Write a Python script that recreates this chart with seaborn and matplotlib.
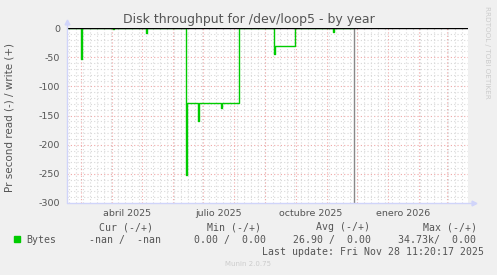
import numpy as np
import pandas as pd
import matplotlib
matplotlib.use("Agg")
import matplotlib.pyplot as plt
from matplotlib.patches import Rectangle
import seaborn as sns

# ---- data ----
dates = ["2025-02-15", "2025-03-01", "2025-03-02", "2025-04-02", "2025-04-03",
         "2025-05-05", "2025-05-06", "2025-06-14", "2025-06-15", "2025-06-26",
         "2025-06-27", "2025-07-19", "2025-07-20", "2025-08-06", "2025-09-09",
         "2025-09-10", "2025-09-30", "2025-11-07", "2025-11-08", "2025-11-28"]
read_values = [0, -53, 0, -1, 0,
               -8, 0, -252, -128, -160,
               -128, -137, -128, 0, -45,
               -31, 0, -7, 0, 0]
month_label_dates = ["2025-04-16", "2025-07-16", "2025-10-16", "2026-01-16"]
month_labels = ["abril 2025", "julio 2025", "octubre 2025", "enero 2026"]
y_ticks = [0, -50, -100, -150, -200, -250, -300]
now_date = "2025-11-28"
x_start, x_end = "2025-02-15", "2026-03-22"

legend_headers = ["Cur (-/+)", "Min (-/+)", "Avg (-/+)", "Max (-/+)"]
legend_values = ["-nan /  -nan", "0.00 /  0.00", "26.90 /  0.00", "34.73k/  0.00"]
series_name = "Bytes"
last_update = "Last update: Fri Nov 28 11:20:17 2025"

# ---- style ----
sns.set_theme(style="white")
plt.rcParams['font.family'] = ['DejaVu Sans']

W, H = 497, 275
fig = plt.figure(figsize=(W / 100, H / 100), dpi=100, facecolor='#F0F0F0')
ax = fig.add_axes([67 / W, 72 / H, 401 / W, 175 / H])
ax.set_facecolor('white')

xs = pd.to_datetime(x_start)
xe = pd.to_datetime(x_end)
ax.set_xlim(xs, xe)
ax.set_ylim(-300, 0)

# grid
minor_col = '#d8d8d8'
major_col = '#f0a8a8'
dot = (0, (1, 2))
for v in range(-290, 0, 10):
    if v % 50 != 0:
        ax.axhline(v, color=minor_col, lw=0.8, ls=dot, zorder=1)
for v in range(-250, 0, 50):
    ax.axhline(v, color=major_col, lw=0.8, ls=dot, zorder=1)
for d in pd.date_range(xs, xe, freq='W-MON'):
    ax.axvline(d, color=minor_col, lw=0.8, ls=dot, zorder=1)
for d in pd.date_range("2025-03-01", xe, freq='MS'):
    ax.axvline(d, color=major_col, lw=0.8, ls=dot, zorder=1)

# data
df = pd.DataFrame({'date': pd.to_datetime(dates), 'value': read_values})
sns.lineplot(data=df, x='date', y='value', ax=ax, color='#00CC00', lw=1.0,
             drawstyle='steps-post', zorder=3, legend=False)

ax.axvline(pd.to_datetime(now_date), color='#888888', lw=1.0, zorder=4)
ax.axhline(0, color='black', lw=1.0, zorder=5)

# axes & ticks
for s in ax.spines.values():
    s.set_visible(False)
axis_col = '#d0d4fa'
ax.plot([0, 0], [0, 1 + 6 / 175], transform=ax.transAxes, color=axis_col,
        lw=1, clip_on=False, zorder=6)
ax.plot([0, 1 + 4 / 401], [0, 0], transform=ax.transAxes, color=axis_col,
        lw=1, clip_on=False, zorder=6)
ax.plot([0], [1 + 6 / 175], marker='^', ms=3.5, color=axis_col,
        transform=ax.transAxes, clip_on=False, zorder=6)
ax.plot([1 + 6 / 401], [0], marker='>', ms=3.5, color=axis_col,
        transform=ax.transAxes, clip_on=False, zorder=6)

ax.set_xticks(pd.to_datetime(month_label_dates))
ax.set_xticklabels(month_labels)
ax.set_yticks(y_ticks)
ax.set_yticklabels([str(v) for v in y_ticks])
ax.tick_params(axis='both', length=0, labelsize=6.8, labelcolor='#555555')
ax.tick_params(axis='x', pad=4)
ax.tick_params(axis='y', pad=5)
ax.set_xlabel('')
ax.set_ylabel('')

# texts
fig.text(0.5, 1 - 19 / H, "Disk throughput for /dev/loop5 - by year",
         ha='center', va='center', fontsize=9, color='#555555')
fig.text(10 / W, 1 - 118 / H, "Pr second read (-) / write (+)", rotation=90,
         ha='center', va='center', fontsize=7.5, color='#555555')
fig.text(487 / W, 1 - 52 / H, "RRDTOOL / TOBI OETIKER", rotation=270,
         ha='center', va='center', fontsize=5.2, color='#cccccc')

mono = dict(family='DejaVu Sans Mono', fontsize=7.15, color='#555555', va='center')
head_x = [98.7, 206.7, 316, 422.7]
val_x = [89.3, 194.3, 293.3, 398.3]
for x, t in zip(head_x, legend_headers):
    fig.text(x / W, 1 - 227.5 / H, t, ha='left', **mono)
fig.text(26.3 / W, 1 - 240 / H, series_name, ha='left', **mono)
for x, t in zip(val_x, legend_values):
    fig.text(x / W, 1 - 240 / H, t, ha='left', **mono)
fig.text(261.7 / W, 1 - 251.7 / H, last_update, ha='left', **mono)
fig.patches.append(Rectangle((14 / W, 1 - 242 / H), 6 / W, 6 / H,
                             transform=fig.transFigure, color='#00CC00'))
fig.text(248 / W, 1 - 264 / H, "Munin 2.0.75", ha='center', va='center',
         fontsize=5, color='#cccccc')

fig.savefig('out.png', dpi=100, facecolor=fig.get_facecolor())
